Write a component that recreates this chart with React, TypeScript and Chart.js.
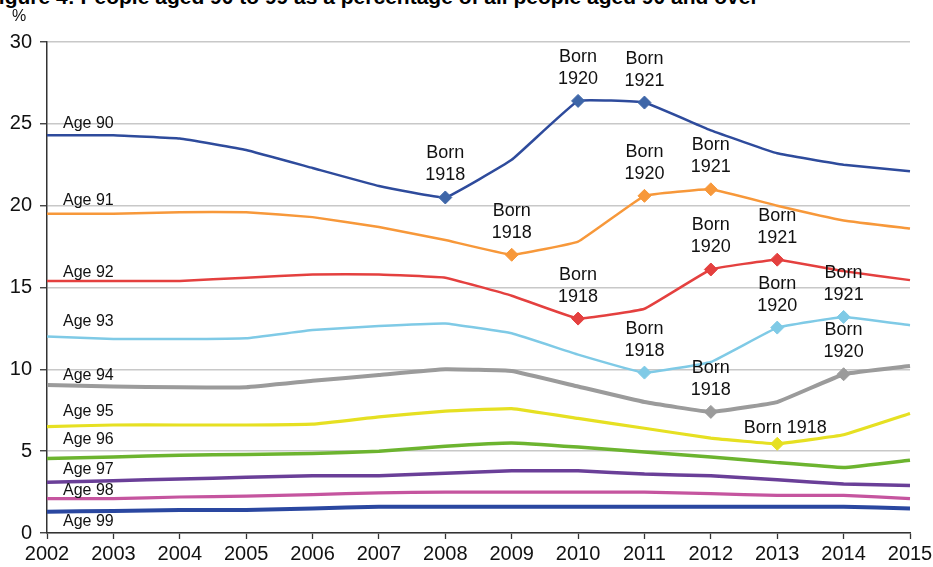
import React, { useEffect, useRef } from "react";
import { Chart, registerables } from "chart.js";

Chart.register(...registerables);

const years = ["2002", "2003", "2004", "2005", "2006", "2007", "2008", "2009", "2010", "2011", "2012", "2013", "2014", "2015"];
const yTicks = [0, 5, 10, 15, 20, 25, 30];

const age90 = [24.3, 24.3, 24.1, 23.4, 22.3, 21.2, 20.5, 22.8, 26.4, 26.3, 24.6, 23.2, 22.5, 22.1];
const age91 = [19.5, 19.5, 19.6, 19.6, 19.3, 18.7, 17.9, 17.0, 17.8, 20.6, 21.0, 20.0, 19.1, 18.6];
const age92 = [15.4, 15.4, 15.4, 15.6, 15.8, 15.8, 15.6, 14.5, 13.1, 13.7, 16.1, 16.7, 16.0, 15.45];
const age93 = [12.0, 11.85, 11.85, 11.9, 12.4, 12.65, 12.8, 12.2, 10.9, 9.8, 10.45, 12.55, 13.2, 12.7];
const age94 = [9.05, 8.95, 8.9, 8.9, 9.3, 9.65, 10.0, 9.9, 8.95, 8.0, 7.4, 8.0, 9.7, 10.2];
const age95 = [6.5, 6.6, 6.6, 6.6, 6.65, 7.1, 7.45, 7.6, 7.0, 6.4, 5.8, 5.45, 6.0, 7.3];
const age96 = [4.55, 4.65, 4.75, 4.8, 4.85, 5.0, 5.3, 5.5, 5.25, 4.95, 4.65, 4.3, 4.0, 4.45];
const age97 = [3.1, 3.2, 3.3, 3.4, 3.5, 3.5, 3.65, 3.8, 3.8, 3.6, 3.5, 3.25, 3.0, 2.9];
const age98 = [2.1, 2.1, 2.2, 2.25, 2.35, 2.45, 2.5, 2.5, 2.5, 2.5, 2.4, 2.3, 2.3, 2.1];
const age99 = [1.3, 1.35, 1.4, 1.4, 1.5, 1.6, 1.6, 1.6, 1.6, 1.6, 1.6, 1.6, 1.6, 1.5];

const ageNames = ["Age 90", "Age 91", "Age 92", "Age 93", "Age 94", "Age 95", "Age 96", "Age 97", "Age 98", "Age 99"];
// y value (in %) at which each age label sits near the left axis
const ageLabelY = [25.0, 20.3, 15.9, 12.9, 9.6, 7.4, 5.7, 3.9, 2.6, 0.67];

const markers90 = [6, 8, 9];
const markers91 = [7, 9, 10];
const markers92 = [8, 10, 11];
const markers93 = [9, 11, 12];
const markers94 = [10, 12];
const markers95 = [11];

const born90 = [["Born", "1918"], ["Born", "1920"], ["Born", "1921"]];
const born91 = [["Born", "1918"], ["Born", "1920"], ["Born", "1921"]];
const born92 = [["Born", "1918"], ["Born", "1920"], ["Born", "1921"]];
const born93 = [["Born", "1918"], ["Born", "1920"], ["Born", "1921"]];
const born94 = [["Born", "1918"], ["Born", "1920"]];
const born95 = [["Born 1918"]];

const lineColors = ["#2E4B9C", "#F7983A", "#E4403F", "#7FCAE6", "#9B9B9B", "#E6E022", "#6CB42F", "#6A3F98", "#C5559F", "#2A47A0"];
const markerColors = ["#3E66A8", "#F7983A", "#E4403F", "#7FCAE6", "#9B9B9B", "#E6E022", "#6CB42F", "#6A3F98", "#C5559F", "#2A47A0"];
const lineWidths = [2.5, 2.5, 2.5, 2.5, 4, 3.2, 3.5, 3.5, 3.2, 4];

const seriesValues = [age90, age91, age92, age93, age94, age95, age96, age97, age98, age99];
const seriesMarkers = [markers90, markers91, markers92, markers93, markers94, markers95, [], [], [], []];
const seriesBorn = [born90, born91, born92, born93, born94, born95, [], [], [], []];

const NARROW = "'Liberation Sans Narrow', 'Arial Narrow', 'Liberation Sans', Arial, sans-serif";
const SANS = "'Liberation Sans', Arial, sans-serif";

const textPlugin = {
  id: "annotText",
  afterDatasetsDraw(chart: any) {
    const ctx = chart.ctx;
    const xs = chart.scales.x;
    const ys = chart.scales.y;
    ctx.save();
    ctx.fillStyle = "#111";
    ctx.textAlign = "center";
    ctx.textBaseline = "middle";
    ctx.font = `18px ${SANS}`;
    chart.data.datasets.forEach((ds: any, di: number) => {
      const meta = chart.getDatasetMeta(di);
      const marks = seriesMarkers[di];
      const born = seriesBorn[di];
      marks.forEach((idx: number, k: number) => {
        const pt = meta.data[idx];
        const lines = born[k];
        if (lines.length === 1) {
          ctx.fillText(lines[0], pt.x + 8, pt.y - 16);
        } else {
          ctx.fillText(lines[0], pt.x, pt.y - 44);
          ctx.fillText(lines[1], pt.x, pt.y - 22);
        }
      });
    });
    // Age labels
    ctx.textAlign = "left";
    ctx.font = `16px ${SANS}`;
    ageNames.forEach((name, i) => {
      const x = xs.getPixelForValue(0) + 16;
      const y = ys.getPixelForValue(ageLabelY[i]);
      ctx.fillText(name, x, y);
    });
    // % unit
    ctx.font = `16px ${NARROW}`;
    ctx.textAlign = "left";
    ctx.fillText("%", 12, 17);
    ctx.restore();
  },
};

export default function App() {
  const canvasRef = useRef<HTMLCanvasElement | null>(null);

  useEffect(() => {
    if (!canvasRef.current) return;
    const datasets = seriesValues.map((vals, i) => ({
      label: ageNames[i],
      data: vals,
      borderColor: lineColors[i],
      backgroundColor: markerColors[i],
      borderWidth: lineWidths[i],
      tension: 0.08,
      pointStyle: "rectRot" as const,
      pointBackgroundColor: markerColors[i],
      pointBorderColor: markerColors[i],
      pointBorderWidth: 1,
      pointRadius: (c: any) => (seriesMarkers[i].includes(c.dataIndex) ? 6.5 : 0),
      pointHoverRadius: 0,
      fill: false,
      order: i,
    }));
    const chart = new Chart(canvasRef.current, {
      type: "line",
      data: { labels: years, datasets },
      options: {
        animation: false,
        responsive: true,
        maintainAspectRatio: false,
        events: [],
        layout: { padding: { top: 42, right: 23, left: 0, bottom: 0 } },
        plugins: {
          legend: { display: false },
          tooltip: { enabled: false },
          title: { display: false },
        },
        scales: {
          x: {
            type: "category",
            offset: false,
            afterFit: (s: any) => {
              s.height = 34;
              s.paddingRight = 0;
            },
            grid: {
              drawOnChartArea: false,
              drawTicks: true,
              tickLength: 6,
              tickColor: "#333",
              tickWidth: 1.3,
            },
            border: { color: "#333", width: 1.5 },
            ticks: {
              color: "#111",
              font: { family: NARROW, size: 20 },
              padding: 3,
              maxRotation: 0,
              autoSkip: false,
            },
          },
          y: {
            min: 0,
            max: 30,
            afterFit: (s: any) => {
              s.width = 47;
            },
            afterBuildTicks: (s: any) => {
              s.ticks = yTicks.map((v) => ({ value: v }));
            },
            grid: {
              color: "#c8c8c8",
              lineWidth: 1.5,
              tickLength: 7,
              tickColor: "#333",
              tickWidth: 1.3,
            },
            border: { color: "#333", width: 1.5 },
            ticks: {
              color: "#111",
              font: { family: NARROW, size: 20 },
              padding: 8,
              stepSize: 5,
            },
          },
        },
      },
      plugins: [textPlugin],
    });
    return () => chart.destroy();
  }, []);

  return (
    <div style={{ position: "absolute", left: 0, top: 0, width: 933, height: 567, overflow: "hidden", background: "#fff" }}>
      <div
        style={{
          position: "absolute",
          left: -14,
          top: -15,
          whiteSpace: "nowrap",
          font: `bold 21px ${SANS}`,
          color: "#000",
        }}
      >
        Figure 4: People aged 90 to 99 as a percentage of all people aged 90 and over
      </div>
      <canvas ref={canvasRef} width={933} height={567} style={{ position: "absolute", left: 0, top: 0 }} />
    </div>
  );
}
